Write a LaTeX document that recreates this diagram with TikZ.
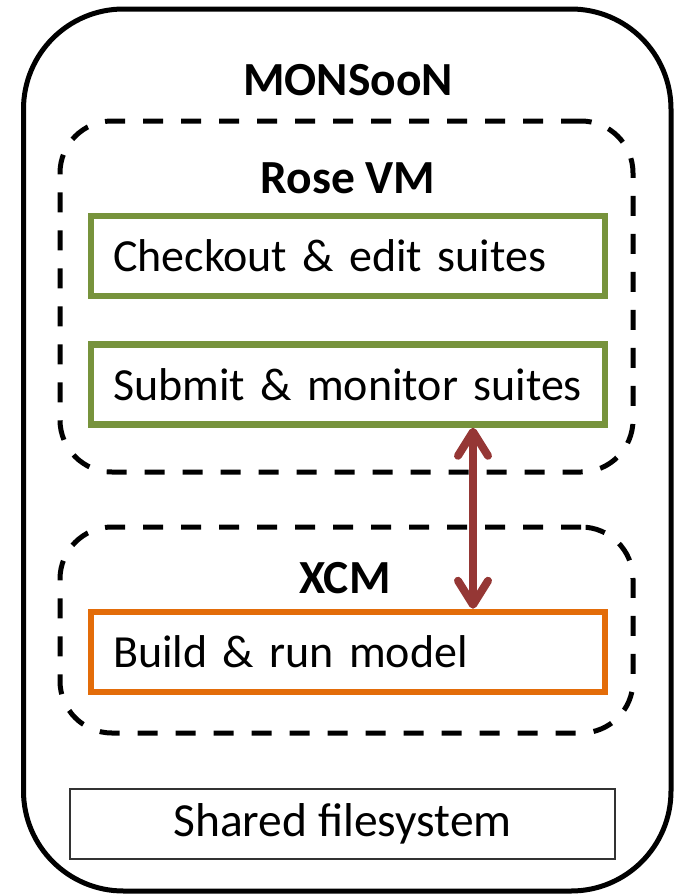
\documentclass[tikz,border=0pt]{standalone}
\usepackage{fontspec}
\setmainfont{Carlito}
\usetikzlibrary{arrows.meta, positioning}

\definecolor{suitegreen}{HTML}{77933C}
\definecolor{modelorange}{HTML}{E36C09}
\definecolor{linkred}{HTML}{953735}

\tikzset{
  host/.style={draw, line width=5pt, rounded corners=100pt, inner sep=0pt},
  vm/.style={draw, line width=5pt, dash pattern=on 20pt off 18pt, rounded corners=52pt, inner sep=0pt},
  task/.style={draw, line width=6.5pt, minimum width=514pt, minimum height=80pt,
    text width=470pt, inner xsep=22pt, align=left, font=\fontsize{46}{52}\selectfont},
  disk/.style={draw=black!80, line width=1.5pt, minimum width=545pt, minimum height=70pt,
    font=\fontsize{47.5}{52}\selectfont},
  title/.style={font=\fontsize{47.5}{52}\selectfont\bfseries},
  link/.style={linkred, line width=8pt, line cap=round,
    {Straight Barb[round, length=24pt, width=30pt]}-{Straight Barb[round, length=24pt, width=30pt]}}
}

\begin{document}
\begin{tikzpicture}[x=1pt, y=-1pt]
  \useasboundingbox (0,0) rectangle (674,895);

  \node[host, minimum width=647.5pt, minimum height=882pt] (frame) at (347.25,450) {};
  \node[title] (monsoon) at (348,80) {MONSooN};

  \node[vm, minimum width=573pt, minimum height=351pt] (rosevm) at (346.5,296.5) {};
  \node[title] (rosetitle) at (348,178) {Rose VM};
  \node[task, draw=suitegreen] (checkout) at (348,256) {Checkout \& edit suites};
  \node[task, draw=suitegreen, below=42pt of checkout] (submit) {Submit \& monitor suites};

  \node[vm, minimum width=573pt, minimum height=206pt] (xcm) at (346.5,630) {};
  \node[title] (xcmtitle) at (345,578) {XCM};
  \node[task, draw=modelorange] (run) at (348,652) {Build \& run model};

  \node[disk] (shared) at (342.5,824) {Shared filesystem};

  \draw[link] ([xshift=125pt]submit.south) -- ([xshift=125pt]run.north);
\end{tikzpicture}
\end{document}
